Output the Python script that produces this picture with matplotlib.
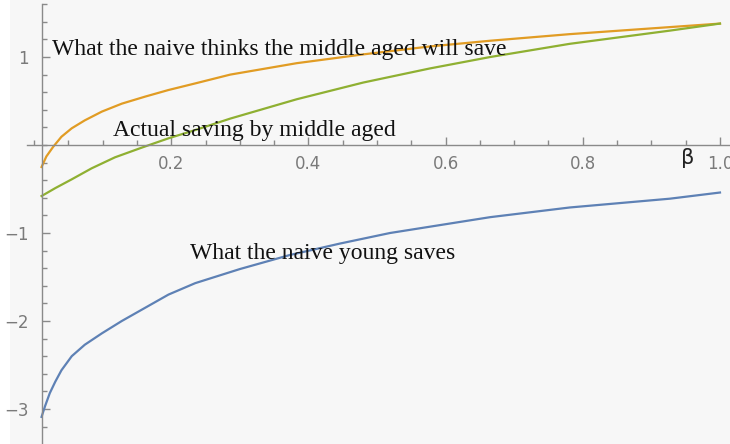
import numpy as np
import matplotlib
matplotlib.use('Agg')
import matplotlib.pyplot as plt
from matplotlib.ticker import MultipleLocator, FixedLocator

# values (beta on x)
beta_young = [0.011, 0.016, 0.023, 0.031, 0.040, 0.055, 0.074, 0.099, 0.128, 0.162,
              0.196, 0.235, 0.30, 0.373, 0.446, 0.519, 0.592, 0.665, 0.781, 0.927, 1.0]
young_saves = [-3.09, -2.97, -2.82, -2.69, -2.56, -2.40, -2.27, -2.14, -2.00, -1.85,
               -1.70, -1.57, -1.41, -1.25, -1.12, -1.00, -0.91, -0.82, -0.71, -0.61, -0.54]

beta_think = [0.011, 0.018, 0.028, 0.040, 0.055, 0.074, 0.099, 0.128, 0.162, 0.196,
              0.235, 0.286, 0.383, 0.48, 0.577, 0.665, 0.781, 0.927, 1.0]
think_middle = [-0.25, -0.13, -0.02, 0.094, 0.19, 0.28, 0.38, 0.47, 0.55, 0.625,
                0.70, 0.80, 0.93, 1.03, 1.12, 1.185, 1.26, 1.34, 1.38]

beta_actual = [0.011, 0.031, 0.055, 0.084, 0.118, 0.157, 0.196, 0.235, 0.286, 0.383,
               0.48, 0.577, 0.665, 0.781, 0.927, 1.0]
actual_middle = [-0.58, -0.49, -0.39, -0.265, -0.14, -0.03, 0.076, 0.17, 0.30, 0.52,
                 0.71, 0.87, 1.00, 1.15, 1.30, 1.38]

x_major = [0.2, 0.4, 0.6, 0.8, 1.0]
x_labels = ['0.2', '0.4', '0.6', '0.8', '1.0']
y_major = [-3, -2, -1, 1]
y_labels = ['\u22123', '\u22122', '\u22121', '1']

fig = plt.figure(figsize=(7.3, 4.44), dpi=100)
fig.patch.set_facecolor('white')
ax = fig.add_axes([10 / 730, 0, 720 / 730, 1])
ax.set_facecolor('#f7f7f7')

ax.plot(beta_young, young_saves, color='#5e81b5', lw=1.6)
ax.plot(beta_think, think_middle, color='#e19c24', lw=1.6)
ax.plot(beta_actual, actual_middle, color='#8fb032', lw=1.6)

ax.set_xlim(-0.035, 1.0146)
ax.set_ylim(-3.398, 1.648)

# Mathematica style axes crossing near the origin
axis_col = '#8a8a8a'
for s in ['top', 'right']:
    ax.spines[s].set_visible(False)
ax.spines['left'].set_position(('data', 0.011))
ax.spines['bottom'].set_position(('data', 0))
ax.spines['left'].set_bounds(-3.4, 1.6)
ax.spines['bottom'].set_bounds(-0.01, 1.02)
for s in ['left', 'bottom']:
    ax.spines[s].set_color(axis_col)
    ax.spines[s].set_linewidth(1.0)

ax.xaxis.set_major_locator(FixedLocator(x_major))
ax.set_xticklabels(x_labels)
ax.xaxis.set_minor_locator(MultipleLocator(0.05))
ax.yaxis.set_major_locator(FixedLocator(y_major))
ax.set_yticklabels(y_labels)
ax.yaxis.set_minor_locator(MultipleLocator(0.2))

ax.tick_params(which='both', direction='in', color=axis_col, width=1.0)
ax.tick_params(which='major', length=6)
ax.tick_params(which='minor', length=3.5)
ax.tick_params(axis='x', which='major', pad=7, labelsize=12, labelcolor='#7a7a7a')
ax.tick_params(axis='y', which='major', pad=9, labelsize=12, labelcolor='#7a7a7a')

serif = 'Liberation Serif'
ax.text(0.026, 1.08, 'What the naive thinks the middle aged will save',
        family=serif, fontsize=17, va='center', ha='left', color='#111111')
ax.text(0.115, 0.17, 'Actual saving by middle aged',
        family=serif, fontsize=17, va='center', ha='left', color='#111111')
ax.text(0.227, -1.23, 'What the naive young saves',
        family=serif, fontsize=17, va='center', ha='left', color='#111111')
ax.text(0.953, -0.15, '\u03b2', fontsize=15, va='center', ha='center', color='#222222')

fig.savefig('out.png', dpi=100, facecolor=fig.get_facecolor())
